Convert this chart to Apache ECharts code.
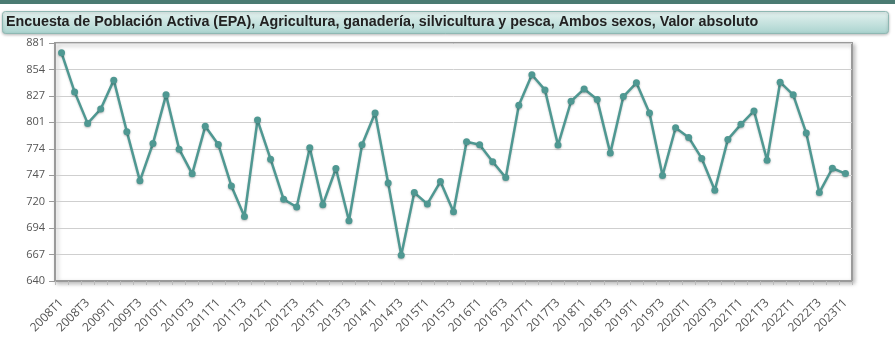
<!DOCTYPE html>
<html><head><meta charset="utf-8">
<script src="https://cdn.jsdelivr.net/npm/echarts@6/dist/echarts.min.js"></script>
<style>html,body{margin:0;padding:0;background:#fff}#c{width:895px;height:361px}</style>
</head><body><div id="c"></div>
<script>
var titleText = 'Encuesta de Población Activa (EPA), Agricultura, ganadería, silvicultura y pesca, Ambos sexos, Valor absoluto';
var years = [2008,2009,2010,2011,2012,2013,2014,2015,2016,2017,2018,2019,2020,2021,2022,2023];
var categories = [];
years.forEach(function(y){ for (var q=1;q<=4;q++){ if (y===2023 && q>1) break; categories.push(y+'T'+q); } });
var values = [
 871.1,831.5,799.6,814.2,843.4,791.2,741.4,779.3,828.5,773.5,
 748.5,796.6,778.3,736.3,705.4,803.0,763.4,722.7,714.9,774.9,
 717.3,753.9,701.0,778.0,810.1,739.3,666.1,729.5,718.0,740.7,
 710.2,781.0,778.0,760.7,744.7,818.0,848.8,833.5,777.6,822.0,
 834.5,823.7,769.5,826.8,840.7,810.1,746.8,795.2,785.4,764.1,
 731.9,783.4,798.6,812.2,762.3,841.3,828.5,789.8,729.5,754.2,
 748.8
];
var yMin = 640, yMax = 881, ySplits = 9;

var chart = echarts.init(document.getElementById('c'));
chart.setOption({
  animation: false,
  graphic: [
    {type:'rect', left:0, top:0, shape:{width:895, height:4}, style:{fill:'#4b7b72'}},
    {type:'rect', left:2, top:11, shape:{width:886, height:22, r:3},
     style:{fill:new echarts.graphic.LinearGradient(0,0,0,1,[{offset:0,color:'#e6f3f1'},{offset:1,color:'#a9d3ce'}]),
            stroke:'#8fb8b3', lineWidth:1, shadowColor:'rgba(0,0,0,0.25)', shadowBlur:3, shadowOffsetY:1}, z:-1}
  ],
  title: {text: titleText, left: 1, top: 10,
    textStyle:{fontFamily:'Liberation Sans, Arial, sans-serif', fontWeight:'bold', fontSize:14.3, color:'#222'}},
  grid: {left:55, right:43, top:43, bottom:80, show:true, borderColor:'#9a9a9a', borderWidth:2,
         backgroundColor:'#fff', shadowColor:'rgba(0,0,0,0.25)', shadowBlur:4, shadowOffsetX:2, shadowOffsetY:2},
  xAxis: {type:'category', data:categories, boundaryGap:true,
    axisLine:{lineStyle:{color:'#9a9a9a', width:2}},
    axisTick:{show:true, interval:0, length:4, lineStyle:{color:'#bbb'}},
    axisLabel:{interval:1, rotate:45, fontSize:12, color:'#555', margin:20, fontFamily:'Open Sans, sans-serif'}},
  yAxis: {type:'value', min:yMin, max:yMax, interval:(yMax-yMin)/ySplits,
    axisLine:{show:true, lineStyle:{color:'#9a9a9a', width:2}},
    axisTick:{show:true, length:6, lineStyle:{color:'#9a9a9a'}},
    splitLine:{lineStyle:{color:'#cfcfcf'}},
    axisLabel:{fontSize:11, color:'#555', margin:10, fontFamily:'Open Sans, sans-serif',
      formatter:function(v){return Math.round(v);}}},
  series: [{type:'line', data:values, symbol:'circle', symbolSize:7, showSymbol:true,
    lineStyle:{color:'#4f9892', width:2.5, shadowColor:'rgba(0,0,0,0.2)', shadowBlur:2, shadowOffsetY:1},
    itemStyle:{color:'#4f9892', shadowColor:'rgba(0,0,0,0.25)', shadowBlur:2, shadowOffsetY:1}}]
});
</script></body></html>
